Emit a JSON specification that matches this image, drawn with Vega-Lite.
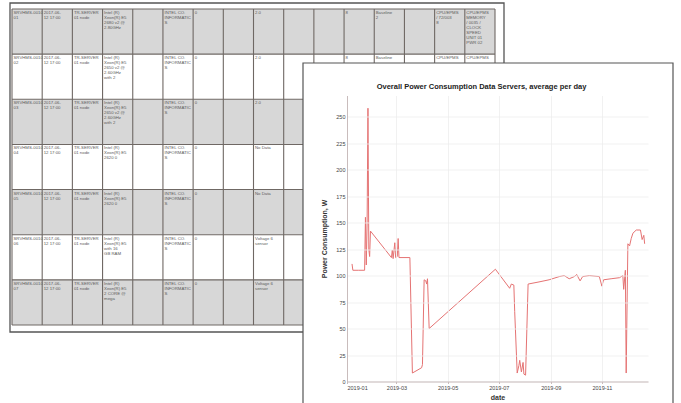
{
  "$schema": "https://vega.github.io/schema/vega-lite/v6.json",
  "width": 301,
  "height": 286,
  "autosize": {"type": "none"},
  "padding": {"left": 347, "top": 95.5, "right": 33, "bottom": 21.5},
  "background": "white",
  "config": {"view": {"stroke": null}, "font": "Liberation Sans"},
  "title": {
    "text": "Overall Power Consumption Data Servers, average per day",
    "fontSize": 7.5,
    "fontWeight": "bold",
    "color": "#222222",
    "anchor": "middle",
    "frame": "group",
    "dx": -16,
    "dy": 92.6,
    "offset": 4,
    "zindex": 1
  },
  "datasets": {
    "tableRows": [
      {"r0": 0, "r1": 1, "shade": "grey"},
      {"r0": 1, "r1": 2, "shade": "white"},
      {"r0": 2, "r1": 3, "shade": "grey"},
      {"r0": 3, "r1": 4, "shade": "white"},
      {"r0": 4, "r1": 5, "shade": "grey"},
      {"r0": 5, "r1": 6, "shade": "white"},
      {"r0": 6, "r1": 7, "shade": "grey"}
    ],
    "colLines": [
      {"c": 0}, {"c": 1}, {"c": 2}, {"c": 3}, {"c": 4}, {"c": 5}, {"c": 6}, {"c": 7}, {"c": 8},
      {"c": 9}, {"c": 10}, {"c": 11}, {"c": 12}, {"c": 13}, {"c": 14}, {"c": 15}, {"c": 16}
    ],
    "rowLines": [
      {"r": 0}, {"r": 1}, {"r": 2}, {"r": 3}, {"r": 4}, {"r": 5}, {"r": 6}, {"r": 7}
    ],
    "cellText": [
      {"r": 0, "c": 0, "t": "SRVHMS-0010\n01"},
      {"r": 0, "c": 1, "t": "2017-06-\n12 17:00"},
      {"r": 0, "c": 2, "t": "TR-SERVER\n01 node"},
      {"r": 0, "c": 3, "t": "Intel (R)\nXeon(R) E5\n2680 v2 @\n2.80GHz"},
      {"r": 0, "c": 5, "t": "INTEL CO.\nINFORMATIC\nS"},
      {"r": 0, "c": 6, "t": "0"},
      {"r": 0, "c": 8, "t": "2.0"},
      {"r": 0, "c": 11, "t": "8"},
      {"r": 0, "c": 12, "t": "Baseline\n2"},
      {"r": 0, "c": 14, "t": "CPU/EPMS\n/ 72/003\n8"},
      {"r": 0, "c": 15, "t": "CPU/EPMS\nMEMORY\n/ 0035 /\nCLOCK\nSPEED\nUNIT 01\nPWR 02"},
      {"r": 1, "c": 0, "t": "SRVHMS-0010\n02"},
      {"r": 1, "c": 1, "t": "2017-06-\n12 17:00"},
      {"r": 1, "c": 2, "t": "TR-SERVER\n01 node"},
      {"r": 1, "c": 3, "t": "Intel (R)\nXeon(R) E5\n2650 v2 @\n2.60GHz\nwith 2"},
      {"r": 1, "c": 5, "t": "INTEL CO.\nINFORMATIC\nS"},
      {"r": 1, "c": 6, "t": "0"},
      {"r": 1, "c": 8, "t": "2.0"},
      {"r": 1, "c": 11, "t": "8"},
      {"r": 1, "c": 12, "t": "Baseline"},
      {"r": 1, "c": 14, "t": "CPU/EPMS"},
      {"r": 1, "c": 15, "t": "CPU/EPMS"},
      {"r": 2, "c": 0, "t": "SRVHMS-0010\n03"},
      {"r": 2, "c": 1, "t": "2017-06-\n12 17:00"},
      {"r": 2, "c": 2, "t": "TR-SERVER\n01 node"},
      {"r": 2, "c": 3, "t": "Intel (R)\nXeon(R) E5\n2650 v2 @\n2.60GHz\nwith 2"},
      {"r": 2, "c": 5, "t": "INTEL CO.\nINFORMATIC\nS"},
      {"r": 2, "c": 6, "t": "0"},
      {"r": 2, "c": 8, "t": "2.0"},
      {"r": 3, "c": 0, "t": "SRVHMS-0010\n04"},
      {"r": 3, "c": 1, "t": "2017-06-\n12 17:00"},
      {"r": 3, "c": 2, "t": "TR-SERVER\n01 node"},
      {"r": 3, "c": 3, "t": "Intel (R)\nXeon(R) E5\n2620 0"},
      {"r": 3, "c": 5, "t": "INTEL CO.\nINFORMATIC\nS"},
      {"r": 3, "c": 6, "t": "0"},
      {"r": 3, "c": 8, "t": "No Data"},
      {"r": 4, "c": 0, "t": "SRVHMS-0010\n05"},
      {"r": 4, "c": 1, "t": "2017-06-\n12 17:00"},
      {"r": 4, "c": 2, "t": "TR-SERVER\n01 node"},
      {"r": 4, "c": 3, "t": "Intel (R)\nXeon(R) E5\n2620 0"},
      {"r": 4, "c": 5, "t": "INTEL CO.\nINFORMATIC\nS"},
      {"r": 4, "c": 6, "t": "0"},
      {"r": 4, "c": 8, "t": "No Data"},
      {"r": 5, "c": 0, "t": "SRVHMS-0010\n06"},
      {"r": 5, "c": 1, "t": "2017-06-\n12 17:00"},
      {"r": 5, "c": 2, "t": "TR-SERVER\n01 node"},
      {"r": 5, "c": 3, "t": "Intel (R)\nXeon(R) E5\nwith 16\nGB RAM"},
      {"r": 5, "c": 5, "t": "INTEL CO.\nINFORMATIC\nS"},
      {"r": 5, "c": 6, "t": "0"},
      {"r": 5, "c": 8, "t": "Voltage 6\nsensor"},
      {"r": 6, "c": 0, "t": "SRVHMS-0010\n07"},
      {"r": 6, "c": 1, "t": "2017-06-\n12 17:00"},
      {"r": 6, "c": 2, "t": "TR-SERVER\n01 node"},
      {"r": 6, "c": 3, "t": "Intel (R)\nXeon(R) E5\n2 CORE @\nmega"},
      {"r": 6, "c": 5, "t": "INTEL CO.\nINFORMATIC\nS"},
      {"r": 6, "c": 6, "t": "0"},
      {"r": 6, "c": 8, "t": "Voltage 6\nsensor"}
    ],
    "box": [{"name": "box"}],
    "power": [
      {"date": "2019-01-07", "value": 111},
      {"date": "2019-01-08", "value": 105},
      {"date": "2019-01-15", "value": 105},
      {"date": "2019-01-22", "value": 105},
      {"date": "2019-01-23", "value": 155},
      {"date": "2019-01-24", "value": 110},
      {"date": "2019-01-25", "value": 150},
      {"date": "2019-01-26", "value": 258},
      {"date": "2019-01-27", "value": 125},
      {"date": "2019-01-28", "value": 118},
      {"date": "2019-01-29", "value": 142},
      {"date": "2019-02-23", "value": 117},
      {"date": "2019-02-24", "value": 124},
      {"date": "2019-02-25", "value": 116},
      {"date": "2019-02-27", "value": 131},
      {"date": "2019-02-28", "value": 117},
      {"date": "2019-03-02", "value": 118},
      {"date": "2019-03-03", "value": 135},
      {"date": "2019-03-04", "value": 117},
      {"date": "2019-03-17", "value": 117},
      {"date": "2019-03-20", "value": 8},
      {"date": "2019-03-31", "value": 13},
      {"date": "2019-04-01", "value": 16},
      {"date": "2019-04-03", "value": 96},
      {"date": "2019-04-05", "value": 95},
      {"date": "2019-04-06", "value": 92},
      {"date": "2019-04-07", "value": 97},
      {"date": "2019-04-09", "value": 50},
      {"date": "2019-06-27", "value": 106},
      {"date": "2019-07-14", "value": 88},
      {"date": "2019-07-16", "value": 92},
      {"date": "2019-07-19", "value": 91},
      {"date": "2019-07-20", "value": 66},
      {"date": "2019-07-23", "value": 8},
      {"date": "2019-07-25", "value": 15},
      {"date": "2019-07-26", "value": 20},
      {"date": "2019-07-28", "value": 9},
      {"date": "2019-07-30", "value": 18},
      {"date": "2019-07-31", "value": 7},
      {"date": "2019-08-02", "value": 6},
      {"date": "2019-08-05", "value": 92},
      {"date": "2019-08-18", "value": 94},
      {"date": "2019-08-30", "value": 96},
      {"date": "2019-09-11", "value": 99},
      {"date": "2019-09-17", "value": 100},
      {"date": "2019-09-23", "value": 97},
      {"date": "2019-09-29", "value": 99},
      {"date": "2019-10-02", "value": 101},
      {"date": "2019-10-06", "value": 95},
      {"date": "2019-10-09", "value": 99},
      {"date": "2019-10-17", "value": 100},
      {"date": "2019-10-29", "value": 99},
      {"date": "2019-11-01", "value": 90},
      {"date": "2019-11-03", "value": 96},
      {"date": "2019-11-12", "value": 97},
      {"date": "2019-11-22", "value": 98},
      {"date": "2019-11-26", "value": 100},
      {"date": "2019-11-27", "value": 87},
      {"date": "2019-11-29", "value": 105},
      {"date": "2019-11-30", "value": 8},
      {"date": "2019-12-02", "value": 130},
      {"date": "2019-12-04", "value": 128},
      {"date": "2019-12-06", "value": 135},
      {"date": "2019-12-08", "value": 140},
      {"date": "2019-12-12", "value": 143},
      {"date": "2019-12-17", "value": 143},
      {"date": "2019-12-19", "value": 134},
      {"date": "2019-12-21", "value": 138},
      {"date": "2019-12-22", "value": 130}
    ]
  },
  "layer": [
    {
      "data": {"name": "tableRows"},
      "mark": {"type": "rect"},
      "encoding": {
        "x": {"datum": 0, "type": "quantitative", "scale": {"domain": [0, 16], "range": [-335, 148], "nice": false, "zero": false}, "axis": null},
        "x2": {"datum": 16},
        "y": {"field": "r0", "type": "quantitative", "scale": {"domain": [0, 7], "range": [-86.5, 229.5], "nice": false, "zero": false}, "axis": null},
        "y2": {"field": "r1"},
        "color": {"field": "shade", "type": "nominal", "scale": {"domain": ["grey", "white"], "range": ["#d7d7d7", "#ffffff"]}, "legend": null}
      }
    },
    {
      "data": {"name": "cellText"},
      "mark": {"type": "text", "align": "left", "baseline": "top", "dx": 1.5, "dy": 2, "fontSize": 4.3, "lineHeight": 5, "lineBreak": "\n", "color": "#5a5a5a"},
      "encoding": {
        "x": {"field": "c", "type": "quantitative", "scale": {"domain": [0, 16], "range": [-335, 148], "nice": false, "zero": false}, "axis": null},
        "y": {"field": "r", "type": "quantitative", "scale": {"domain": [0, 7], "range": [-86.5, 229.5], "nice": false, "zero": false}, "axis": null},
        "text": {"field": "t"}
      }
    },
    {
      "data": {"name": "colLines"},
      "mark": {"type": "rule", "color": "#6f6864", "strokeWidth": 1.1},
      "encoding": {
        "x": {"field": "c", "type": "quantitative", "scale": {"domain": [0, 16], "range": [-335, 148], "nice": false, "zero": false}, "axis": null},
        "y": {"datum": 0, "type": "quantitative", "scale": {"domain": [0, 7], "range": [-86.5, 229.5], "nice": false, "zero": false}, "axis": null},
        "y2": {"datum": 7}
      }
    },
    {
      "data": {"name": "rowLines"},
      "mark": {"type": "rule", "color": "#6f6864", "strokeWidth": 1.1},
      "encoding": {
        "x": {"datum": 0, "type": "quantitative", "scale": {"domain": [0, 16], "range": [-335, 148], "nice": false, "zero": false}, "axis": null},
        "x2": {"datum": 16},
        "y": {"field": "r", "type": "quantitative", "scale": {"domain": [0, 7], "range": [-86.5, 229.5], "nice": false, "zero": false}, "axis": null}
      }
    },
    {
      "data": {"name": "box"},
      "mark": {"type": "rect", "fill": null, "stroke": "#555555", "strokeWidth": 1.3},
      "encoding": {
        "x": {"datum": 0, "type": "quantitative", "scale": {"domain": [0, 1], "range": [-337, 157], "nice": false, "zero": false}, "axis": null},
        "x2": {"datum": 1},
        "y": {"datum": 0, "type": "quantitative", "scale": {"domain": [0, 1], "range": [-92.5, 236.5], "nice": false, "zero": false}, "axis": null},
        "y2": {"datum": 1}
      }
    },
    {
      "data": {"name": "box"},
      "mark": {"type": "rect", "fill": "#ffffff", "stroke": "#555555", "strokeWidth": 1.2},
      "encoding": {
        "x": {"datum": 0, "type": "quantitative", "scale": {"domain": [0, 1], "range": [-44, 326], "nice": false, "zero": false}, "axis": null},
        "x2": {"datum": 1},
        "y": {"datum": 0, "type": "quantitative", "scale": {"domain": [0, 1], "range": [-32.5, 330], "nice": false, "zero": false}, "axis": null},
        "y2": {"datum": 1}
      }
    },
    {
      "data": {"name": "power"},
      "mark": {"type": "line", "color": "#e57373", "strokeWidth": 1},
      "encoding": {
        "x": {
          "field": "date",
          "type": "temporal",
          "scale": {"domain": ["2019-01-01", "2019-12-26"], "nice": false},
          "axis": {
            "orient": "bottom",
            "zindex": 1,
            "title": "date",
            "titleFontSize": 7,
            "titleFontWeight": "bold",
            "titleColor": "#333333",
            "titlePadding": 3,
            "values": [
              {"year": 2019, "month": 1, "date": 1},
              {"year": 2019, "month": 3, "date": 1},
              {"year": 2019, "month": 5, "date": 1},
              {"year": 2019, "month": 7, "date": 1},
              {"year": 2019, "month": 9, "date": 1},
              {"year": 2019, "month": 11, "date": 1}
            ],
            "format": "%Y-%m",
            "labelFontSize": 5.5,
            "labelColor": "#444444",
            "labelPadding": 1.5,
            "tickSize": 2,
            "tickColor": "#c9bcbc",
            "domainColor": "#c9bcbc",
            "grid": true,
            "gridColor": "#eeeeee",
            "gridWidth": 0.8
          }
        },
        "y": {
          "field": "value",
          "type": "quantitative",
          "scale": {"domain": [0, 270], "nice": false},
          "axis": {
            "orient": "left",
            "zindex": 1,
            "title": "Power Consumption, W",
            "titleFontSize": 7,
            "titleFontWeight": "bold",
            "titleColor": "#333333",
            "titlePadding": 8,
            "values": [0, 25, 50, 75, 100, 125, 150, 175, 200, 225, 250],
            "labelFontSize": 5.5,
            "labelColor": "#444444",
            "labelPadding": 2,
            "ticks": false,
            "domainColor": "#c9bcbc",
            "grid": true,
            "gridColor": "#eeeeee",
            "gridWidth": 0.8
          }
        }
      }
    }
  ],
  "resolve": {"scale": {"x": "independent", "y": "independent"}, "axis": {"x": "independent", "y": "independent"}}
}
